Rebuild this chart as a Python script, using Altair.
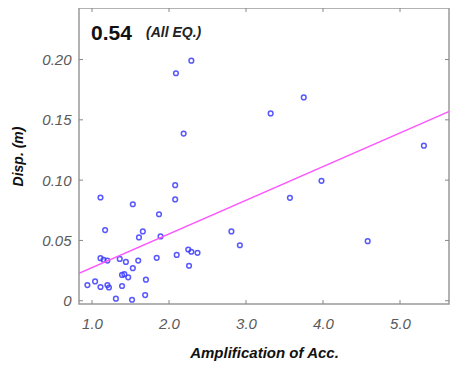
import altair as alt
import pandas as pd

amp = [1.11, 1.53, 1.17, 2.08, 2.08, 1.87, 1.89, 1.66, 1.61, 2.81, 2.92, 3.57, 3.98, 4.58,
       2.25, 2.29, 2.37, 2.10, 2.26, 1.84, 1.60, 1.36, 1.44, 1.11, 1.15, 1.20, 1.53, 1.39,
       1.42, 1.47, 1.70, 0.94, 1.04, 1.11, 1.20, 1.22, 1.39, 1.31, 1.52, 1.69, 2.09, 2.29,
       2.19, 3.32, 3.75, 5.31]
disp = [0.0856, 0.0800, 0.0586, 0.0958, 0.0840, 0.0717, 0.0533, 0.0575, 0.0525, 0.0575,
        0.0460, 0.0853, 0.0994, 0.0494, 0.0425, 0.0406, 0.0397, 0.0380, 0.0290, 0.0356,
        0.0333, 0.0347, 0.0322, 0.0353, 0.0339, 0.0333, 0.0270, 0.0214, 0.0220, 0.0194,
        0.0175, 0.0130, 0.0160, 0.0114, 0.0130, 0.0110, 0.0122, 0.0017, 0.0008, 0.0047,
        0.1886, 0.1990, 0.1386, 0.1553, 0.1686, 0.1286]
fit_x = [0.83, 5.64]
fit_y = [0.0228, 0.157]
x_ticks = [1, 2, 3, 4, 5]
y_ticks = [0, 0.05, 0.10, 0.15, 0.20]

W, H = 370, 296
pts = pd.DataFrame({"amp": amp, "disp": disp})
fit = pd.DataFrame({"amp": fit_x, "disp": fit_y})
xt = pd.DataFrame({"amp": x_ticks})
yt = pd.DataFrame({"disp": y_ticks})

FONT = "Liberation Sans"
xscale = alt.Scale(domain=[0.831, 5.636], nice=False, zero=False)
yscale = alt.Scale(domain=[-0.0027, 0.2427], nice=False, zero=False)

xaxis = alt.Axis(
    values=x_ticks, format=".1f", title="Amplification of Acc.", domain=False,
    ticks=False, grid=False, labelFont=FONT, labelFontSize=15, labelFontStyle="italic",
    labelColor="#5a5a5a", labelPadding=12, titleFont=FONT, titleFontSize=15,
    titleFontStyle="italic", titleFontWeight="bold", titleColor="#111111",
    titlePadding=14)
yaxis = alt.Axis(
    values=y_ticks, labelExpr="datum.value == 0 ? '0' : format(datum.value, '.2f')",
    title="Disp. (m)", domain=False, ticks=False, grid=False, labelFont=FONT,
    labelFontSize=15, labelFontStyle="italic", labelColor="#5a5a5a", labelPadding=8,
    titleFont=FONT, titleFontSize=14, titleFontStyle="italic", titleFontWeight="bold",
    titleColor="#111111", titlePadding=16)

points = alt.Chart(pts).mark_point(
    shape="circle", filled=False, color="#3c3cff", size=22, strokeWidth=1.5, opacity=0.85
).encode(
    x=alt.X("amp:Q", scale=xscale, axis=xaxis),
    y=alt.Y("disp:Q", scale=yscale, axis=yaxis),
)

line = alt.Chart(fit).mark_line(color="#ff55ff", strokeWidth=1.5, clip=True).encode(
    x=alt.X("amp:Q", scale=xscale, axis=xaxis), y=alt.Y("disp:Q", scale=yscale, axis=yaxis)
)

tick_color = "#888888"
bx = alt.Chart(xt).mark_rule(color=tick_color, strokeWidth=1).encode(
    x=alt.X("amp:Q", scale=xscale, axis=xaxis), y=alt.value(H), y2=alt.value(H - 4))
tx = alt.Chart(xt).mark_rule(color=tick_color, strokeWidth=1).encode(
    x=alt.X("amp:Q", scale=xscale, axis=xaxis), y=alt.value(0), y2=alt.value(4))
ly = alt.Chart(yt).mark_rule(color=tick_color, strokeWidth=1).encode(
    y=alt.Y("disp:Q", scale=yscale, axis=yaxis), x=alt.value(0), x2=alt.value(4))
ry = alt.Chart(yt).mark_rule(color=tick_color, strokeWidth=1).encode(
    y=alt.Y("disp:Q", scale=yscale, axis=yaxis), x=alt.value(W), x2=alt.value(W - 4))

label_main = alt.Chart(pd.DataFrame({"t": ["0.54"]})).mark_text(
    font=FONT, fontSize=21, fontWeight="bold", color="#111111", align="left",
    baseline="alphabetic"
).encode(text="t:N", x=alt.value(12), y=alt.value(32))
label_sub = alt.Chart(pd.DataFrame({"t": ["(All EQ.)"]})).mark_text(
    font=FONT, fontSize=14, fontWeight="bold", fontStyle="italic", color="#222222",
    align="left", baseline="alphabetic"
).encode(text="t:N", x=alt.value(67), y=alt.value(29))

chart = alt.layer(points, line, bx, tx, ly, ry, label_main, label_sub).properties(
    width=W, height=H,
    autosize=alt.AutoSizeParams(type="none"),
    padding={"left": 71, "top": 0, "right": 3, "bottom": 60},
).configure_view(stroke="#999999", strokeWidth=1.5)

chart.save("out.html", embed_options={"renderer": "svg", "actions": False})
